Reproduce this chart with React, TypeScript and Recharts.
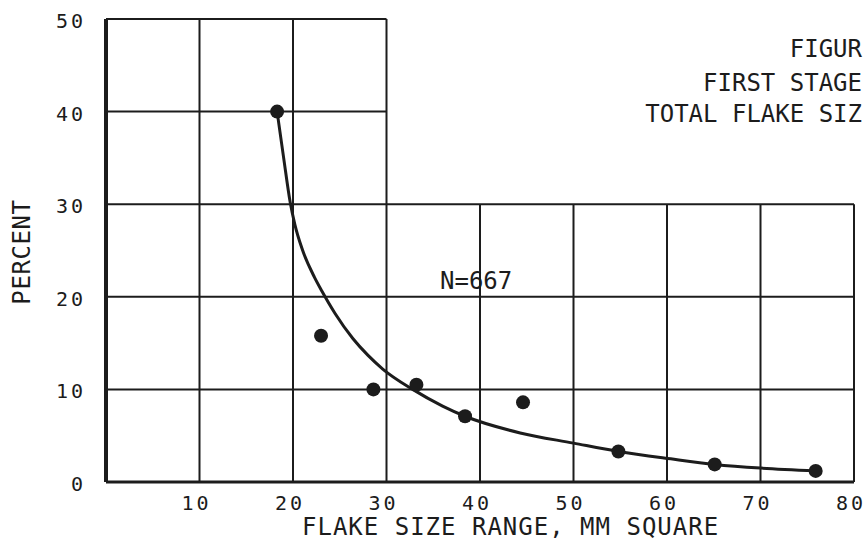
import React from "react";
import {
  ComposedChart,
  XAxis,
  YAxis,
  Line,
  Scatter,
  ReferenceLine,
} from "recharts";

// flake size (mm square) of each measured point and its percent
const pointSize = [18.3, 23.0, 28.6, 33.2, 38.4, 44.6, 54.8, 65.1, 75.9];
const pointPercent = [40, 15.8, 10.0, 10.5, 7.1, 8.6, 3.3, 1.9, 1.2];

// hand-drawn fitted curve, read along its length
const curveSize = [18.3, 19, 19.7, 20.2, 21, 22.3, 23.1, 24.5, 26.4, 28, 29.6, 32.8, 36, 38.4, 44.3, 50, 54.8, 60.4, 65.1, 70, 75.9];
const curvePercent = [40, 35, 30.2, 27.8, 25.1, 22.1, 20.6, 18.2, 15.5, 13.7, 12.2, 10.0, 8.2, 7.1, 5.3, 4.2, 3.3, 2.5, 1.9, 1.5, 1.2];

const xTicks = [10, 20, 30, 40, 50, 60, 70, 80];
const yTicks = [0, 10, 20, 30, 40, 50];

const titleLines = ["FIGUR", "FIRST STAGE", "TOTAL FLAKE SIZ"];
const sampleNote = "N=667";

const points = pointSize.map((x, i) => ({ x, y: pointPercent[i] }));
const curve = curveSize.map((x, i) => ({ x, y: curvePercent[i] }));

const INK = "#1c1c1c";
const MONO = "'DejaVu Sans Mono', monospace";

// the grid is only drawn up to 50 for the first three columns, up to 30 elsewhere
const hLines = yTicks.map((y) => ({ y, x1: 0, x2: y > 30 ? 30 : 80 }));
const vLines = [0, ...xTicks].map((x) => ({ x, y1: 0, y2: x > 30 ? 30 : 50 }));

const XTick = ({ x, y, payload }: any) => (
  <text x={x - 3} y={y + 28} textAnchor="middle" fontFamily={MONO} fontSize={20} fill={INK} letterSpacing={3}>
    {payload.value}
  </text>
);

const YTick = ({ x, y, payload }: any) => (
  <text x={x - 20} y={y + 9} textAnchor="end" fontFamily={MONO} fontSize={20} fill={INK} letterSpacing={3}>
    {payload.value}
  </text>
);

export default function App() {
  return (
    <div style={{ position: "absolute", left: 0, top: 0, width: 865, height: 542, overflow: "hidden", background: "#fff" }}>
      <ComposedChart width={865} height={542} margin={{ top: 19, right: 11, bottom: 0, left: 0 }}>
        <XAxis
          type="number"
          dataKey="x"
          domain={[0, 80]}
          ticks={xTicks}
          axisLine={false}
          tickLine={false}
          tickSize={0}
          tickMargin={0}
          height={60}
          tick={<XTick />}
          interval={0}
        />
        <YAxis
          type="number"
          dataKey="y"
          domain={[0, 50]}
          ticks={yTicks}
          axisLine={false}
          tickLine={false}
          tickSize={0}
          tickMargin={0}
          width={106}
          tick={<YTick />}
          interval={0}
        />
        {hLines.map((l) => (
          <ReferenceLine
            key={"h" + l.y}
            segment={[{ x: l.x1, y: l.y }, { x: l.x2, y: l.y }]}
            stroke={INK}
            strokeWidth={l.y === 0 ? 3 : 2}
            ifOverflow="visible"
          />
        ))}
        {vLines.map((l) => (
          <ReferenceLine
            key={"v" + l.x}
            segment={[{ x: l.x, y: l.y1 }, { x: l.x, y: l.y2 }]}
            stroke={INK}
            strokeWidth={l.x === 0 ? 4 : 2}
            ifOverflow="visible"
          />
        ))}
        <Line
          data={curve}
          dataKey="y"
          type="monotone"
          stroke={INK}
          strokeWidth={3}
          dot={false}
          activeDot={false}
          isAnimationActive={false}
        />
        <Scatter data={points} dataKey="y" fill={INK} shape={(p: any) => <circle cx={p.cx} cy={p.cy} r={7} fill={INK} />} isAnimationActive={false} />
      </ComposedChart>
      <svg width={865} height={542} style={{ position: "absolute", left: 0, top: 0, pointerEvents: "none" }}>
        <g fontFamily={MONO} fill={INK}>
          <text x={862} y={57} fontSize={24} textAnchor="end">{titleLines[0]}</text>
          <text x={862} y={91} fontSize={24} textAnchor="end">{titleLines[1]}</text>
          <text x={862} y={122} fontSize={24} textAnchor="end">{titleLines[2]}</text>
          <text x={440} y={289} fontSize={24}>{sampleNote}</text>
          <text x={302} y={535} fontSize={24} letterSpacing={1}>FLAKE SIZE RANGE, MM SQUARE</text>
          <text x={0} y={0} fontSize={24} letterSpacing={0.6} textAnchor="middle" transform="translate(30 252) rotate(-90)">
            PERCENT
          </text>
        </g>
      </svg>
    </div>
  );
}
